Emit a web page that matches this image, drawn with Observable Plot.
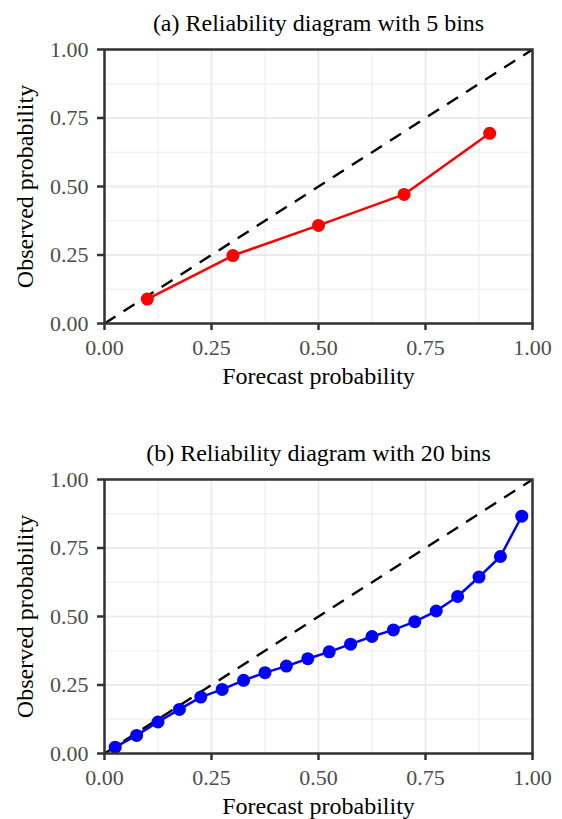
<!DOCTYPE html>
<html>
<head>
<meta charset="utf-8">
<script src="https://cdn.jsdelivr.net/npm/d3@7"></script>
<script src="https://cdn.jsdelivr.net/npm/@observablehq/plot@0.6"></script>
<style>
  html, body { margin: 0; padding: 0; background: #fff; }
  #chart svg { display: block; }
</style>
</head>
<body>
<div id="chart"></div>
<script>
// ---- data ----
const titleA = "(a) Reliability diagram with 5 bins";
const titleB = "(b) Reliability diagram with 20 bins";
const xLabel = "Forecast probability";
const yLabel = "Observed probability";
const majorTicks = [0, 0.25, 0.5, 0.75, 1];
const minorTicks = [0.125, 0.375, 0.625, 0.875];
const diagonal = [0, 1];

const forecastA = [0.1, 0.3, 0.5, 0.7, 0.9];
const observedA = [0.089, 0.248, 0.358, 0.471, 0.694];

const forecastB = [0.025, 0.075, 0.125, 0.175, 0.225, 0.275, 0.325, 0.375, 0.425, 0.475,
                   0.525, 0.575, 0.625, 0.675, 0.725, 0.775, 0.825, 0.875, 0.925, 0.975];
const observedB = [0.023, 0.066, 0.115, 0.161, 0.206, 0.234, 0.267, 0.295, 0.319, 0.346,
                   0.371, 0.399, 0.427, 0.451, 0.481, 0.520, 0.573, 0.644, 0.719, 0.866];

const FONT = "'Liberation Serif', 'Times New Roman', serif";

function panel({title, xs, ys, color, height, marginTop, marginBottom}) {
  const pts = xs.map((x, i) => ({x, y: ys[i]}));
  const diag = diagonal.map(v => ({x: v, y: v}));
  return Plot.plot({
    width: 562,
    height,
    marginLeft: 104,
    marginRight: 30,
    marginTop,
    marginBottom,
    style: {fontFamily: FONT, background: "#fff"},
    x: {domain: [0, 1]},
    y: {domain: [0, 1]},
    marks: [
      Plot.gridX(minorTicks, {stroke: "#ebebeb", strokeOpacity: 1, strokeWidth: 0.9}),
      Plot.gridY(minorTicks, {stroke: "#ebebeb", strokeOpacity: 1, strokeWidth: 0.9}),
      Plot.gridX(majorTicks, {stroke: "#ebebeb", strokeOpacity: 1, strokeWidth: 1.8}),
      Plot.gridY(majorTicks, {stroke: "#ebebeb", strokeOpacity: 1, strokeWidth: 1.8}),
      Plot.line(diag, {x: "x", y: "y", stroke: "#000", strokeWidth: 2.4, strokeDasharray: "13,9.6", strokeLinecap: "butt"}),
      Plot.line(pts, {x: "x", y: "y", stroke: color, strokeWidth: 2.5}),
      Plot.dot(pts, {x: "x", y: "y", fill: color, r: 6.5}),
      Plot.frame({stroke: "#333", strokeWidth: 2.5}),
      Plot.axisX(majorTicks, {
        tickFormat: d3.format(".2f"), tickSize: 7, tickPadding: 9,
        stroke: "#333", strokeWidth: 2.5, fill: "#4d4d4d", fontSize: 22, label: null
      }),
      Plot.axisY(majorTicks, {
        tickFormat: d3.format(".2f"), tickSize: 7, tickPadding: 9,
        stroke: "#333", strokeWidth: 2.5, fill: "#4d4d4d", fontSize: 22, label: null
      }),
      Plot.text([title], {frameAnchor: "top", dy: -26, lineAnchor: "middle", textAnchor: "middle", fontSize: 24, fill: "#000"}),
      Plot.text([xLabel], {frameAnchor: "bottom", dy: 52.5, lineAnchor: "middle", textAnchor: "middle", fontSize: 24, fill: "#000"}),
      Plot.text([yLabel], {frameAnchor: "left", dx: -79, rotate: -90, lineAnchor: "middle", textAnchor: "middle", fontSize: 24, fill: "#000"})
    ]
  });
}

const root = document.getElementById("chart");
root.append(panel({title: titleA, xs: forecastA, ys: observedA, color: "#ff0000", height: 409, marginTop: 49, marginBottom: 86}));
root.append(panel({title: titleB, xs: forecastB, ys: observedB, color: "#0000ff", height: 410, marginTop: 70, marginBottom: 66}));
</script>
</body>
</html>
